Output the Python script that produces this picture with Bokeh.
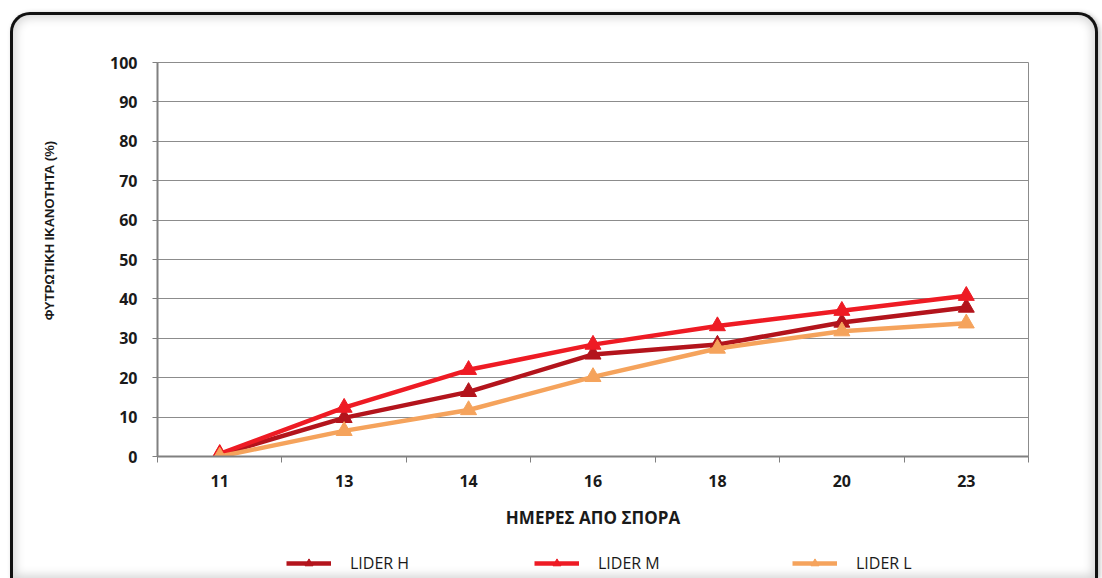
from bokeh.plotting import figure
from bokeh.layouts import column
from bokeh.models import FixedTicker, Legend, LegendItem, Range1d
from bokeh.embed import file_html
from bokeh.resources import INLINE

# ---- data ----
days = ["11", "13", "14", "16", "18", "20", "23"]
lider_h = [0.5, 9.8, 16.4, 25.9, 28.4, 34.0, 37.8]
lider_m = [0.7, 12.4, 22.0, 28.4, 33.1, 37.0, 40.8]
lider_l = [0.0, 6.5, 11.8, 20.2, 27.4, 31.8, 33.8]
series_names = ["LIDER H", "LIDER M", "LIDER L"]
series_colors = ["#B3141C", "#EE1B24", "#F5A35C"]
y_ticks = list(range(0, 101, 10))
x_title = "ΗΜΕΡΕΣ ΑΠΟ ΣΠΟΡΑ"
y_title = "ΦΥΤΡΩΤΙΚΗ ΙΚΑΝΟΤΗΤΑ (%)"

W = 1082
H_MAIN, H_LEG = 527, 36
FL, FR, FT, FB = 144, 67, 47, 86  # frame borders of the main figure

xs = list(range(len(days)))
all_series = [lider_h, lider_m, lider_l]

p = figure(width=W, height=H_MAIN, output_backend="svg", toolbar_location=None,
           x_range=Range1d(-0.5, len(days) - 0.5), y_range=Range1d(0, 100),
           min_border_left=FL, min_border_right=FR, min_border_top=FT, min_border_bottom=FB,
           background_fill_color="white", border_fill_color=None)

p.outline_line_color = "#8c8c8c"
p.outline_line_width = 1

# x axis
p.xaxis.ticker = FixedTicker(ticks=xs, minor_ticks=[i - 0.5 for i in range(len(days) + 1)])
p.xaxis.major_label_overrides = {i: d for i, d in enumerate(days)}
p.xaxis.major_tick_line_color = None
p.xaxis.major_tick_out = 0
p.xaxis.major_tick_in = 0
p.xaxis.minor_tick_line_color = "#808080"
p.xaxis.minor_tick_line_width = 1
p.xaxis.minor_tick_out = 6
p.xaxis.minor_tick_in = 0
p.xaxis.axis_line_color = "#808080"
p.xaxis.axis_line_width = 2
p.xaxis.major_label_text_font = "Open Sans"
p.xaxis.major_label_text_font_style = "bold"
p.xaxis.major_label_text_font_size = "16px"
p.xaxis.major_label_text_color = "#1a1a1a"
p.xaxis.major_label_standoff = 12
p.xaxis.axis_label = x_title
p.xaxis.axis_label_text_font = "Open Sans"
p.xaxis.axis_label_text_font_style = "bold"
p.xaxis.axis_label_text_font_size = "17px"
p.xaxis.axis_label_text_color = "#1a1a1a"
p.xaxis.axis_label_standoff = 16

# y axis
p.yaxis.ticker = FixedTicker(ticks=y_ticks)
p.yaxis.major_tick_out = 5
p.yaxis.major_tick_in = 0
p.yaxis.major_tick_line_color = "#808080"
p.yaxis.minor_tick_line_color = None
p.yaxis.axis_line_color = "#808080"
p.yaxis.axis_line_width = 2
p.yaxis.major_label_text_font = "Open Sans"
p.yaxis.major_label_text_font_style = "bold"
p.yaxis.major_label_text_font_size = "16px"
p.yaxis.major_label_text_color = "#1a1a1a"
p.yaxis.major_label_standoff = 15
# no-break spaces lift the title along the axis, as in the reference
p.yaxis.axis_label = "\u00a0" * 16 + y_title
p.yaxis.axis_label_text_font = "Liberation Sans"
p.yaxis.axis_label_text_font_style = "bold"
p.yaxis.axis_label_text_font_size = "13px"
p.yaxis.axis_label_text_color = "#1a1a1a"
p.yaxis.axis_label_standoff = 50

p.xgrid.visible = False
p.ygrid.ticker = FixedTicker(ticks=y_ticks)
p.ygrid.grid_line_color = "#8c8c8c"
p.ygrid.grid_line_width = 1

# series
for ys, c in zip(all_series, series_colors):
    p.line(xs, ys, line_color=c, line_width=4.5)
    p.scatter(xs, ys, marker="triangle", size=16, fill_color=c, line_color=c)

# ---- legend strip underneath (its frame aligns with the main frame) ----
pl = figure(width=W, height=H_LEG, output_backend="svg", toolbar_location=None,
            x_range=Range1d(-0.5, len(days) - 0.5), y_range=Range1d(200, 300),
            x_axis_location=None, y_axis_location=None,
            min_border_left=FL, min_border_right=FR,
            min_border_top=0, min_border_bottom=0,
            background_fill_color=None, border_fill_color=None)
pl.outline_line_color = None
pl.xgrid.visible = False
pl.ygrid.visible = False

# legend sample glyphs come from the same series (kept out of this strip's view)
legend_x = [129, 377, 635]
for ys, name, c, lx in zip(all_series, series_names, series_colors, legend_x):
    rl = pl.line(xs, ys, line_color=c, line_width=4.5)
    rm = pl.scatter(xs, ys, marker="triangle", size=13, fill_color=c, line_color=c)
    leg = Legend(items=[LegendItem(label=name, renderers=[rl, rm])],
                 location=(lx, 4), orientation="horizontal",
                 padding=0, margin=0, spacing=0,
                 border_line_color=None, background_fill_alpha=0,
                 glyph_width=45, glyph_height=20, label_standoff=19,
                 label_text_font="Open Sans", label_text_font_size="16px",
                 label_text_color="#1a1a1a")
    pl.add_layout(leg)

layout = column(p, pl, spacing=0, styles={
    "margin-left": "10px",
    "margin-top": "12px",
    "border-left": "3px solid #111",
    "border-right": "3px solid #111",
    "border-top": "3px solid #111",
    "border-radius": "20px 20px 0 0",
    "background-color": "white",
    "box-shadow": "inset 0 0 10px 3px rgba(0,0,0,0.16), 2px 1px 5px rgba(0,0,0,0.25)",
})

open("out.html", "w").write(file_html(layout, INLINE))
